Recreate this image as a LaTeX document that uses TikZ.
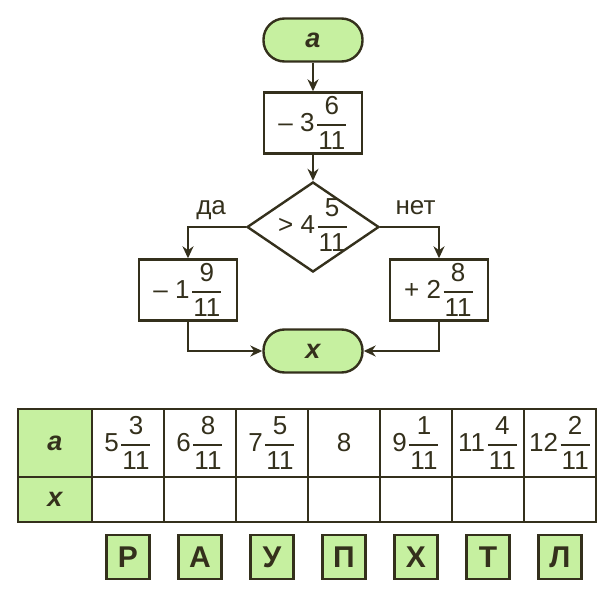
\documentclass[tikz,border=0pt]{standalone}
\usepackage{amsmath}
\usepackage{fontspec}
\setmainfont{Liberation Sans}
\usepackage{tikz}
\usetikzlibrary{arrows.meta,shapes.geometric}

\definecolor{greenfill}{RGB}{198,240,160}
\definecolor{darkline}{RGB}{52,48,28}
\newcommand{\frn}[2]{\kern1.5pt$\genfrac{}{}{1.8pt}{0}{\text{\kern1pt#1\kern1pt}}{\text{\kern1pt#2\kern1pt}}$}

\begin{document}
\begin{tikzpicture}[x=1pt, y=-1pt, line width=2.4pt, color=darkline]
    % Styles
    \tikzstyle{term} = [rectangle, draw, rounded corners=21pt, fill=greenfill, minimum width=99pt, minimum height=43pt, font=\fontsize{27}{30}\selectfont\bfseries\itshape]
    \tikzstyle{op} = [rectangle, draw, fill=white, minimum width=98pt, minimum height=61pt, inner sep=0pt, font=\fontsize{26}{30}\selectfont]
    \tikzstyle{cond} = [diamond, draw, fill=white, minimum width=132pt, minimum height=90pt, inner sep=0pt, font=\fontsize{26}{30}\selectfont]
    \tikzstyle{arrow} = [->, >={Stealth[length=12pt, width=11pt]}]
    \tikzstyle{branch} = [anchor=base, yshift=13pt, font=\fontsize{26}{30}\selectfont]
    \tikzstyle{cell} = [rectangle, draw, minimum width=72pt, inner sep=0pt, font=\fontsize{26}{30}\selectfont]
    \tikzstyle{head} = [cell, fill=greenfill, minimum width=74pt, font=\fontsize{27}{30}\selectfont\bfseries\itshape]
    \tikzstyle{letter} = [rectangle, draw, fill=greenfill, minimum width=43pt, minimum height=44pt, font=\fontsize{30}{32}\selectfont\bfseries]

    \useasboundingbox (0,0) rectangle (616,594);

    % Flowchart
    \node[term] (A) at (313, 40) {a};
    \node[op] (B1) at (313, 123) {– 3\frn{6}{11}};
    \node[cond] (C) at (313, 227) {\makebox[0pt]{\smash{\raisebox{-0.25em}{> 4\frn{5}{11}}}}};
    \node[op] (B2) at (188, 290) {– 1\frn{9}{11}};
    \node[op] (B3) at (439, 290) {+ 2\frn{8}{11}};
    \node[term] (X) at (313, 351) {x};

    % Arrows
    \draw[arrow] (A) -- (B1);
    \draw[arrow] (B1) -- (C);
    \draw[arrow] (C) -| node[branch, pos=0.3] {да} (B2);
    \draw[arrow] (C) -| node[branch, pos=0.3] {нет} (B3);
    \draw[arrow] (B2) |- (X);
    \draw[arrow] (B3) |- (X);

    % Table
    \node[head, minimum height=68pt] (ha) at (55, 443) {a};
    \node[head, minimum height=45pt] (hx) at (55, 499.5) {x};
    \foreach \v [count=\i] in {{5\frn{3}{11}}, {6\frn{8}{11}}, {7\frn{5}{11}}, {8}, {9\frn{1}{11}}, {11\frn{4}{11}}, {12\frn{2}{11}}} {
        \node[cell, minimum height=68pt] (a\i) at (56+72*\i, 443) {\v};
        \node[cell, minimum height=45pt] (x\i) at (56+72*\i, 499.5) {};
    }

    % Letters
    \foreach \l [count=\i] in {Р, А, У, П, Х, Т, Л}
        \node[letter] (L\i) at (56+72*\i, 557) {\l};
\end{tikzpicture}
\end{document}
